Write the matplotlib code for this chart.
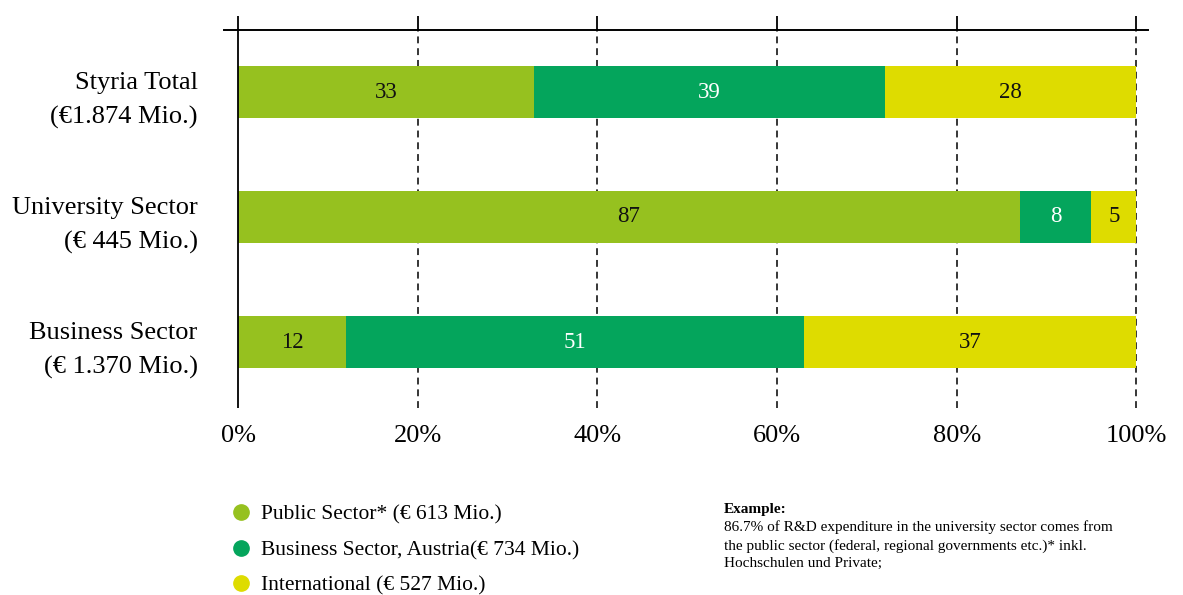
import matplotlib
matplotlib.use("Agg")
import matplotlib.pyplot as plt
from matplotlib.lines import Line2D
import numpy as np

plt.rcParams['font.family'] = ['Liberation Serif', 'DejaVu Serif']

categories = ["Styria Total\n(€1.874 Mio.)",
              "University Sector\n(€ 445 Mio.)",
              "Business Sector\n(€ 1.370 Mio.)"]
series_names = ["Public Sector* (€ 613 Mio.)",
                "Business Sector, Austria(€ 734 Mio.)",
                "International (€ 527 Mio.)"]
public_sector = [33, 87, 12]
business_sector = [39, 8, 51]
international = [28, 5, 37]
tick_values = [0, 20, 40, 60, 80, 100]
tick_labels = ["0%", "20%", "40%", "60%", "80%", "100%"]

colors = ["#96c11f", "#04a55c", "#dedc00"]
text_colors = ["#111111", "white", "#111111"]

W, H = 1183, 595
AX_TOP, AX_BOTTOM = 30, 408
fig = plt.figure(figsize=(W / 100, H / 100), dpi=100)
ax = fig.add_axes([224 / W, 1 - AX_BOTTOM / H, (1148 - 224) / W, (AX_BOTTOM - AX_TOP) / H])

y = np.arange(len(categories))
left = np.zeros(len(categories))
for vals, col, tcol in zip([public_sector, business_sector, international], colors, text_colors):
    vals = np.array(vals, dtype=float)
    ax.barh(y, vals, left=left, height=0.41, color=col, zorder=3)
    for yi, l, v in zip(y, left, vals):
        ax.text(l + v / 2, yi, f"{int(v)}", ha="center", va="center",
                fontsize=16.5, color=tcol, zorder=4)
    left += vals

ax.set_xlim(-1.56, 101.3)
ax.set_ylim(2.528, -0.496)

# dashed vertical grid lines
for t in tick_values[1:]:
    ax.axvline(t, color="black", linewidth=1.1, dashes=(4.5, 3.2), zorder=1)
ax.axvline(0, color="black", linewidth=1.3, zorder=5)

for s in ["left", "right", "bottom"]:
    ax.spines[s].set_visible(False)
ax.spines["top"].set_linewidth(1.4)

ax.xaxis.set_ticks_position("top")
ax.set_xticks(tick_values)
ax.tick_params(axis="x", direction="out", length=10, width=1.3, labeltop=False)

# percentage labels below the plotting area
label_y = -(436 - AX_BOTTOM) / (AX_BOTTOM - AX_TOP)
for t, lab in zip(tick_values, tick_labels):
    ax.text(t, label_y, lab, transform=ax.get_xaxis_transform(),
            ha="center", va="center", fontsize=19)

ax.set_yticks(y)
ax.set_yticklabels(categories, fontsize=19, linespacing=1.65)
ax.tick_params(axis="y", length=0, pad=19)

# legend
handles = [Line2D([], [], marker="o", linestyle="none", markersize=11,
                  markerfacecolor=c, markeredgecolor=c) for c in colors]
fig.legend(handles, series_names, loc="upper left",
           bbox_to_anchor=(219 / W, 1 - 496 / H), frameon=False, fontsize=15.5,
           handletextpad=0.35, labelspacing=0.72, borderaxespad=0, handlelength=1.2)

# explanatory note
fig.text(724 / W, 1 - 509 / H, "Example:", fontsize=11, fontweight="bold", va="center")
note = ("86.7% of R&D expenditure in the university sector comes from\n"
        "the public sector (federal, regional governments etc.)* inkl.\n"
        "Hochschulen und Private;")
fig.text(724 / W, 1 - 520 / H, note, fontsize=11, va="top", linespacing=1.45)

fig.savefig("out.png", dpi=100)
